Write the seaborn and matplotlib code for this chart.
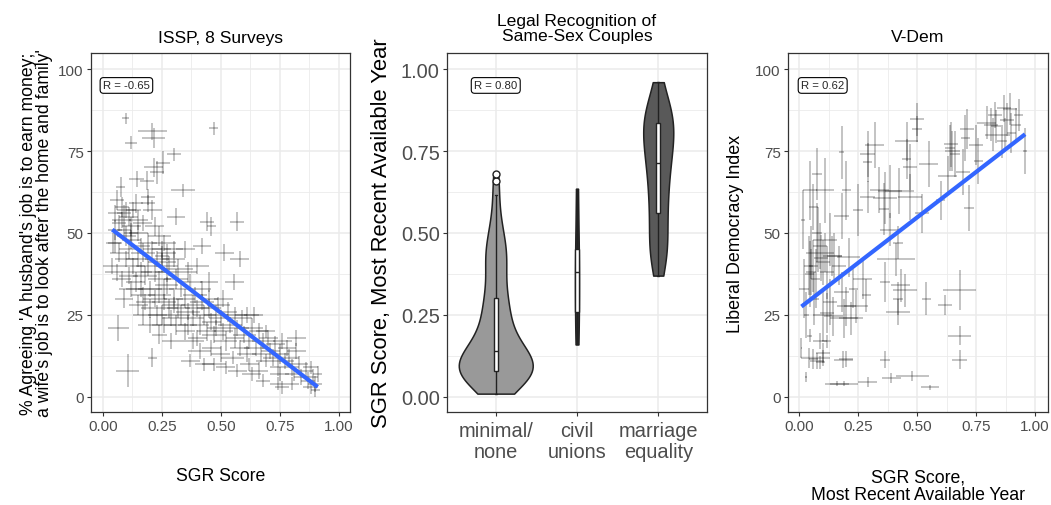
import numpy as np
import pandas as pd
import matplotlib
matplotlib.use("Agg")
import matplotlib.pyplot as plt
import seaborn as sns

# ---------------- data ----------------
# ISSP panel: SGR score (x) vs % agreeing (y), with error half-widths
issp_x = [0.04,0.05,0.06,0.065,0.07,0.07,0.08,0.05,0.075,
          0.09,0.10,0.10,0.11,0.11,0.12,0.097,0.118,0.105,0.12,0.09,0.13,
          0.14,0.15,0.15,0.16,0.16,0.17,0.17,0.143,0.18,0.15,0.17,0.18,0.16,
          0.186,0.19,0.19,0.21,0.21,0.215,0.215,0.19,0.20,0.20,0.21,0.22,0.22,0.22,0.20,0.23,0.21,0.23,0.19,
          0.228,0.255,0.24,0.25,0.25,0.24,0.26,0.26,0.25,0.27,0.27,0.26,0.28,0.24,0.25,0.27,0.28,0.26,0.24,
          0.30,0.31,0.30,0.31,0.30,0.32,0.29,0.33,0.31,0.30,0.32,0.29,0.33,0.34,0.30,
          0.35,0.36,0.36,0.37,0.35,0.38,0.37,0.38,0.36,0.39,0.35,0.38,
          0.40,0.41,0.42,0.40,0.43,0.42,0.41,0.44,0.40,0.43,0.42,
          0.44,0.46,0.47,0.45,0.46,0.47,0.45,0.48,0.46,0.47,0.48,0.45,0.49,
          0.50,0.51,0.52,0.50,0.515,0.53,0.52,0.54,0.51,
          0.557,0.57,0.56,0.56,0.58,0.57,0.58,0.55,0.59,0.57,0.60,
          0.61,0.62,0.63,0.61,0.64,0.62,0.65,0.63,0.66,
          0.67,0.68,0.69,0.66,0.70,0.68,0.71,0.69,
          0.72,0.73,0.74,0.75,0.76,0.74,0.77,0.75,0.78,0.76,
          0.79,0.80,0.81,0.82,0.80,0.83,0.84,0.82,
          0.86,0.87,0.88,0.89,0.90,0.91,0.90,0.88,
          0.05,0.08,0.11,0.13,0.15,0.17,0.045,0.12,0.09,
          0.06,0.10,0.14,0.08,0.12]
issp_y = [40,47,38,21,44,53,36,51,64,
          56,49,42,37,45,33,85,77.5,8,52,30,40,
          35,42,28,38,46,31,25,66.5,37,50,44,29,33,
          66,61,59,57,81,79,70,40,33,27,45,38,30,52,22,25,12,42,47,
          68.5,71.5,49,45,41,36,33,29,25,38,44,22,27,31,43,34,40,47,19,
          74,55,42,36,30,27,24,33,22,45,39,17,25,63,28,
          30,26,22,35,20,28,11,24,38,31,45,17,
          27,22,29,18,25,33,14,20,40,10,46,
          53.5,52,82,27,23,19,30,25,15,10,21,35,28,
          24,20,17,13,44,26,9,22,30,
          35,53.5,25,18,42,21,15,12,24,8,19,
          25,17,21,13,25,10,15,7,20,
          13,17,11,8,18,5,14,20,
          12,16,9,13,17,4,11,7,15,3,
          12,9,7,14,4,10,6,18,
          8,5,3,6,4,7,2,9,
          56,58,55,57,54,53,47,48,51,
          60,57,59,54,50]
issp_xerr = [0.04,0.03,0.05,0.045,0.04,0.03,0.04,0.03,0.02,
             0.03,0.04,0.05,0.04,0.04,0.05,0.015,0.025,0.05,0.04,0.04,0.05,
             0.04,0.05,0.04,0.05,0.04,0.05,0.04,0.03,0.05,0.04,0.05,0.04,0.06,
             0.03,0.03,0.03,0.04,0.06,0.05,0.04,0.05,0.05,0.04,0.04,0.06,0.05,0.04,0.05,0.04,0.02,0.05,0.04,
             0.03,0.03,0.05,0.04,0.06,0.05,0.04,0.05,0.04,0.05,0.04,0.05,0.04,0.05,0.03,0.05,0.04,0.05,0.03,
             0.03,0.04,0.05,0.05,0.04,0.05,0.04,0.05,0.05,0.04,0.06,0.04,0.04,0.05,0.05,
             0.04,0.05,0.04,0.05,0.04,0.05,0.04,0.05,0.04,0.05,0.04,0.05,
             0.05,0.04,0.05,0.04,0.05,0.04,0.05,0.04,0.05,0.04,0.04,
             0.03,0.02,0.02,0.05,0.04,0.05,0.04,0.05,0.04,0.05,0.04,0.04,0.05,
             0.05,0.04,0.05,0.04,0.04,0.04,0.04,0.05,0.04,
             0.04,0.03,0.05,0.04,0.04,0.05,0.04,0.05,0.04,0.04,0.05,
             0.05,0.04,0.05,0.04,0.04,0.04,0.05,0.04,0.04,
             0.04,0.05,0.04,0.04,0.04,0.03,0.04,0.04,
             0.04,0.04,0.03,0.04,0.04,0.03,0.04,0.04,0.04,0.03,
             0.04,0.03,0.04,0.04,0.03,0.04,0.03,0.04,
             0.03,0.03,0.03,0.02,0.03,0.02,0.02,0.03,
             0.03,0.03,0.04,0.03,0.04,0.04,0.03,0.04,0.03,
             0.03,0.04,0.03,0.04,0.03]
issp_yerr = [2.5,3,2.5,4,3,2.5,2.5,3,3,
             2.5,3,2.5,2.5,3,2.5,1.7,2,5,3,3,2.5,
             3,2.5,3,3,2.5,2.5,3,2.5,3,2.5,3,2.5,2.5,
             3,2.5,2.5,3,2.5,3,3,3,2.5,3,2.5,3,2.5,3,2.5,3,3,2.5,3,
             3.5,3.5,3,2.5,3,2.5,3,2.5,3,3,2.5,2.5,3,2.5,3,2.5,3,2.5,3,
             2,2.5,2.5,3,2.5,3,2.5,2.5,3,2.5,3,2.5,3,2,2.5,
             3,2.5,3,2.5,2.5,3,2,2.5,3,2.5,2.5,2.5,
             2.5,3,2.5,2.5,3,2.5,2.5,3,2.5,2,2.5,
             3,3,2,3,2.5,2.5,2.5,3,2.5,2,2.5,3,2.5,
             2.5,2.5,3,2.5,2.5,3,2,2.5,2.5,
             2.5,3,2.5,3,2.5,2.5,2.5,2,2.5,2,2.5,
             2.5,2.5,3,2.5,2.5,2,2.5,2,2.5,
             2.5,2.5,2,2.5,2.5,2,2.5,2,
             2.5,2.5,2.5,3,2.5,2,2.5,2,2.5,2,
             2.5,2.5,2,2.5,2,2.5,2.5,2.5,
             2.5,2.5,2,2.5,2.5,2.5,2,2,
             2.5,3,3,2.5,3,2.5,3,3,2.5,
             3,2.5,3,2.5,3]

# Legal recognition panel: SGR score by category
cats = ["minimal/\nnone", "civil\nunions", "marriage\nequality"]
sgr_minimal = [0.01,0.025,0.035,0.045,0.05,0.055,0.06,0.06,0.065,0.065,0.07,0.07,0.07,0.07,0.075,0.075,0.075,0.075,0.075,0.075,
               0.08,0.08,0.085,0.085,0.09,0.09,0.095,0.095,0.10,0.10,0.105,0.11,0.11,0.115,0.12,0.12,0.125,0.13,0.135,0.14,
               0.14,0.15,0.155,0.16,0.17,0.175,0.18,0.19,0.20,0.21,0.22,0.23,0.24,0.25,0.26,0.27,0.28,0.29,0.295,0.30,
               0.31,0.33,0.35,0.37,0.39,0.40,0.41,0.42,0.43,0.44,0.45,0.46,0.47,0.49,0.51,0.53,0.56,0.615,0.66,0.68]
sgr_civil = [0.16,0.26,0.38,0.45,0.635]
sgr_marriage = [0.37,0.41,0.44,0.45,0.46,0.48,0.52,0.56,0.57,0.59,0.62,0.64,0.67,0.69,0.71,
                0.72,0.74,0.76,0.77,0.79,0.80,0.82,0.84,0.84,0.85,0.86,0.87,0.88,0.91,0.96]

# V-Dem panel
vdem_x = [0.03,0.01,0.04,0.075,0.10,0.09,0.06,0.187,0.20,0.365,0.68,0.68,0.16,0.19,0.29,0.39,0.48,0.555,0.089,0.117,0.045,0.10,
          0.075,0.09,0.11,0.05,0.06,0.045,0.10,0.14,0.17,0.21,0.13,0.08,0.04,0.094,0.02,0.117,0.145,0.19,0.22,0.24,0.20,0.18,0.285,0.13,0.10,0.03,0.07,0.12,0.15,0.065,0.27,0.23,
          0.075,0.047,0.11,0.06,0.016,0.18,0.20,0.25,0.18,0.05,
          0.54,0.62,0.68,0.43,0.45,0.42,0.42,0.365,0.41,0.42,0.385,0.36,0.365,0.385,0.425,0.47,0.34,0.29,0.29,0.32,0.456,0.456,0.50,0.50,0.55,
          0.63,0.695,0.72,0.64,0.65,0.645,0.71,0.705,0.75,0.795,0.815,0.835,0.873,0.895,0.90,0.88,0.92,0.958,0.66,0.60,0.52,0.29,0.47,0.83,0.86,0.76,
          0.93,0.87,0.82]
vdem_y = [6,15,11.8,11,11.8,10.5,11.5,11.4,11.5,11.4,18.7,11.4,4,4,4.5,5.7,6.4,2.9,17,17,18.7,13.4,
          50,46,44,44,40,37.5,41,43,40,42.6,48,48,40,42.5,33,25.6,24.6,24,24,27.6,27.6,32,31,29,25,25,36,38,43,30,36,33,
          68,63,63,58,54,55.3,63,57,74.6,38,
          30,28,32.6,34,32.5,30,26,35,42,47,51,57.3,60.6,62.7,62.7,61,63,71.6,74,76.8,72.6,78,84.7,81.7,71,
          67.5,68.7,57.5,76,75,77,81.7,79,76.8,83.7,83,82.5,80,87.8,80.5,84.5,83,75,74,60,56,61,70,86,78,72,
          86,88,80]
vdem_xerr = [0.005,0.003,0.03,0.03,0.03,0.02,0.02,0.04,0.03,0.02,0.05,0.03,0.05,0.06,0.04,0.04,0.07,0.04,0.03,0.02,0.01,0.03,
             0.02,0.03,0.04,0.02,0.02,0.02,0.03,0.04,0.03,0.05,0.03,0.02,0.02,0.03,0.02,0.03,0.04,0.06,0.05,0.05,0.04,0.03,0.02,0.03,0.04,0.01,0.02,0.03,0.03,0.02,0.04,0.02,
             0.02,0.03,0.04,0.02,0.01,0.03,0.02,0.02,0.01,0.02,
             0.02,0.03,0.07,0.04,0.05,0.02,0.05,0.02,0.08,0.02,0.04,0.02,0.05,0.05,0.06,0.05,0.04,0.02,0.03,0.04,0.02,0.05,0.03,0.02,0.04,
             0.04,0.03,0.02,0.02,0.03,0.03,0.03,0.02,0.03,0.04,0.03,0.02,0.02,0.03,0.02,0.03,0.02,0.01,0.02,0.02,0.03,0.03,0.03,0.03,0.02,0.02,
             0.02,0.03,0.03]
vdem_yerr = [1.5,3,3,2.5,2.5,2,3,2.5,2.5,2.5,3,3,0.8,0.8,1.5,1.5,1.5,0.8,2.5,2,2,3,
             9,7,6,8,8,10,7,6,6,6,8,10,9,7,9,6,6,6,5,5,6,6,5,7,8,7,9,8,7,8,6,6,
             8,9,10,7,9,7,9,8,8,7,
             5,3,6,5,5,5,4,6,5,5,5,8,8,8,7,7,7,6,7,7,6,6,5,4,7,
             6,7,7,7,6,7,6,7,6,5,5,5,5,5,6,5,5,7,7,6,6,5,7,4,5,7,
             5,4,5]

r_labels = ["R = -0.65", "R = 0.80", "R = 0.62"]

# ---------------- style ----------------
sns.set_theme(style="white")
plt.rcParams["font.family"] = ["Liberation Sans", "DejaVu Sans"]

GRID = "#EBEBEB"
TICKC = "#4D4D4D"
EDGE = "#333333"
BLUE = "#3366FF"

fig = plt.figure(figsize=(10.51, 5.06), dpi=100)
W, H = 1051, 506
def add_ax(left_px, top_px, w_px, h_px):
    return fig.add_axes([left_px / W, (H - top_px - h_px) / H, w_px / W, h_px / H])

ax1 = add_ax(91, 54, 259, 359)
ax2 = add_ax(447, 54, 260, 359)
ax3 = add_ax(788, 54, 260, 359)

def style_axes(ax, fs_tick):
    for s in ax.spines.values():
        s.set_color(EDGE)
        s.set_linewidth(0.9)
        s.set_visible(True)
    ax.tick_params(which="major", length=2.75, width=0.8, color=EDGE,
                   labelcolor=TICKC, labelsize=fs_tick, pad=2.5,
                   bottom=True, left=True)
    ax.tick_params(which="minor", length=0)
    ax.grid(which="major", color=GRID, lw=1.1)
    ax.grid(which="minor", color=GRID, lw=0.6)
    ax.set_axisbelow(True)

CROSS = (0, 0, 0, 0.3)

# ---- panel 1: ISSP ----
ax1.errorbar(issp_x, issp_y, xerr=issp_xerr, yerr=issp_yerr, fmt="none",
             ecolor=CROSS, elinewidth=1.1, capsize=0, zorder=2)
sns.regplot(x=issp_x, y=issp_y, scatter=False, ci=None, truncate=True,
            color=BLUE, line_kws=dict(lw=3, solid_capstyle="butt"), ax=ax1)
ax1.set_xlim(-0.05, 1.047)
ax1.set_ylim(-4.6, 104.9)
ax1.set_xticks([0, 0.25, 0.5, 0.75, 1.0])
ax1.set_xticklabels(["0.00", "0.25", "0.50", "0.75", "1.00"])
ax1.set_xticks([0.125, 0.375, 0.625, 0.875], minor=True)
ax1.set_yticks([0, 25, 50, 75, 100])
ax1.set_yticks([12.5, 37.5, 62.5, 87.5], minor=True)
style_axes(ax1, 11)

# ---- panel 3: V-Dem ----
ax3.errorbar(vdem_x, vdem_y, xerr=vdem_xerr, yerr=vdem_yerr, fmt="none",
             ecolor=CROSS, elinewidth=1.1, capsize=0, zorder=2)
sns.regplot(x=vdem_x, y=vdem_y, scatter=False, ci=None, truncate=True,
            color=BLUE, line_kws=dict(lw=3, solid_capstyle="butt"), ax=ax3)
ax3.set_xlim(-0.047, 1.055)
ax3.set_ylim(-4.6, 104.9)
ax3.set_xticks([0, 0.25, 0.5, 0.75, 1.0])
ax3.set_xticklabels(["0.00", "0.25", "0.50", "0.75", "1.00"])
ax3.set_xticks([0.125, 0.375, 0.625, 0.875], minor=True)
ax3.set_yticks([0, 25, 50, 75, 100])
ax3.set_yticks([12.5, 37.5, 62.5, 87.5], minor=True)
style_axes(ax3, 11)

# ---- panel 2: violins ----
groups = [sgr_minimal, sgr_civil, sgr_marriage]
fills = ["#999999", "#333333", "#595959"]
widths = [0.91, 0.05, 0.37]
for cat, vals, fc, wd in zip(cats, groups, fills, widths):
    sns.violinplot(x=[cat] * len(vals), y=vals, order=cats, cut=0, inner=None,
                   density_norm="width", width=wd, color=fc, saturation=1,
                   bw_adjust=0.85, linecolor="#222222", linewidth=1.1, ax=ax2)
box_df = pd.DataFrame({
    "cat": [cats[0]] * len(sgr_minimal) + [cats[1]] * len(sgr_civil) + [cats[2]] * len(sgr_marriage),
    "sgr": sgr_minimal + sgr_civil + sgr_marriage,
})
sns.boxplot(data=box_df, x="cat", y="sgr", order=cats, width=0.05, color="white",
            saturation=1, linecolor="#222222", linewidth=1.0, fliersize=5,
            flierprops=dict(marker="o", markerfacecolor="white", markeredgecolor="#222222",
                            markeredgewidth=1.0), ax=ax2)
ax2.set_xlim(-0.6, 2.6)
ax2.set_ylim(-0.046, 1.049)
ax2.set_yticks([0, 0.25, 0.5, 0.75, 1.0])
ax2.set_yticklabels(["0.00", "0.25", "0.50", "0.75", "1.00"])
ax2.set_yticks([0.125, 0.375, 0.625, 0.875], minor=True)
style_axes(ax2, 14.4)
ax2.tick_params(axis="x", pad=4)
for lbl in ax2.get_xticklabels():
    lbl.set_linespacing(1.1)
ax2.set_xlabel("")

# ---- R labels ----
bbox = dict(boxstyle="round,pad=0.25,rounding_size=0.3", fc="white", ec="black", lw=0.8)
ax1.text(0.1, 95, r_labels[0], ha="center", va="center", fontsize=8.2, bbox=bbox, zorder=5)
ax2.text(0, 0.95, r_labels[1], ha="center", va="center", fontsize=8.2, bbox=bbox, zorder=5)
ax3.text(0.1, 95, r_labels[2], ha="center", va="center", fontsize=8.2, bbox=bbox, zorder=5)

# ---- titles ----
ax1.text(0.5, (413 - 38) / 359, "ISSP, 8 Surveys", transform=ax1.transAxes,
         ha="center", va="center", fontsize=12.6, color="black")
ax2.text(0.5, (413 - 29) / 359, "Legal Recognition of\nSame-Sex Couples", transform=ax2.transAxes,
         ha="center", va="center", fontsize=12.6, color="black", linespacing=1.05)
ax3.text(0.5, (413 - 38) / 359, "V-Dem", transform=ax3.transAxes,
         ha="center", va="center", fontsize=12.6, color="black")

# ---- axis titles ----
ax1.set_ylabel("% Agreeing 'A husband's job is to earn money;\na wife's job is to look after the home and family'",
               fontsize=12.7, linespacing=0.95, va="center", color="black")
ax1.yaxis.set_label_coords(-0.21, 0.5)
ax1.set_xlabel("SGR Score", fontsize=12.7, va="center", color="black")
ax1.xaxis.set_label_coords(0.5, (413 - 477) / 359)

ax2.set_ylabel("SGR Score, Most Recent Available Year", fontsize=15.8, va="center", color="black")
ax2.yaxis.set_label_coords(-0.25, 0.5)

ax3.set_ylabel("Liberal Democracy Index", fontsize=12.9, va="center", color="black")
ax3.yaxis.set_label_coords(-0.2, 0.5)
ax3.set_xlabel("SGR Score,\nMost Recent Available Year", fontsize=12.7, va="center",
               color="black", linespacing=1.05)
ax3.xaxis.set_label_coords(0.5, (413 - 487) / 359)

fig.savefig("out.png", dpi=100)
